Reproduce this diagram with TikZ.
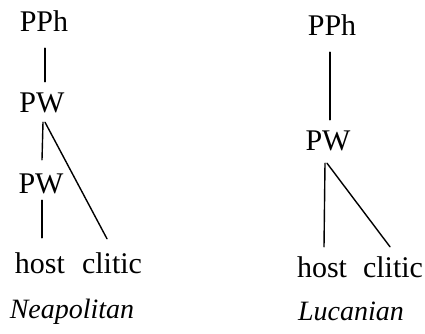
\documentclass[tikz,border=0pt]{standalone}
\usepackage{fontspec}
\setmainfont{Liberation Serif}
\begin{document}
\begin{tikzpicture}[x=1pt,y=-1pt,
  lbl/.style={inner sep=0pt, anchor=base, text height=19pt, text depth=0pt,
              font=\fontsize{30}{32}\selectfont},
  langname/.style={inner sep=0pt, anchor=base,
              font=\fontsize{28}{30}\selectfont\itshape},
  branch/.style={line width=1.4pt, line cap=round}]
\useasboundingbox (0,0) rectangle (425,334);

% Neapolitan: recursive prosodic word
\node[lbl] (pphA) at (44,32) {PPh};
\node[lbl] (pwA) at (42,112) {PW};
\node[lbl] (pwB) at (41,193) {PW};
\node[lbl] (hostA) at (40,273) {host};
\node[lbl] (cliticA) at (112,273) {clitic};
\node[langname] (nameA) at (72,318) {Neapolitan};

\draw[branch] ([xshift=1pt,yshift=-16pt]pphA.south) -- ([xshift=3pt,yshift=11pt]pwA.north);
\draw[branch] ([xshift=1pt,yshift=-10pt]pwA.south) -- ([xshift=1pt,yshift=14pt]pwB.north);
\draw[branch] ([xshift=3pt,yshift=-10pt]pwA.south) -- ([xshift=-5pt,yshift=15pt]cliticA.north);
\draw[branch] ([xshift=1pt,yshift=-7pt]pwB.south) -- ([xshift=2pt,yshift=16pt]hostA.north);

% Lucanian: flat prosodic word
\node[lbl] (pphB) at (332,36) {PPh};
\node[lbl] (pwC) at (328,150) {PW};
\node[lbl] (hostB) at (322,277) {host};
\node[lbl] (cliticB) at (393,277) {clitic};
\node[langname] (nameB) at (351,320) {Lucanian};

\draw[branch] ([xshift=-2pt,yshift=-16pt]pphB.south) -- ([xshift=2pt,yshift=11pt]pwC.north);
\draw[branch] ([xshift=-3pt,yshift=-13pt]pwC.south) -- ([xshift=2pt,yshift=11pt]hostB.north);
\draw[branch] ([xshift=-1pt,yshift=-13pt]pwC.south) -- ([xshift=-3pt,yshift=11pt]cliticB.north);
\end{tikzpicture}
\end{document}
